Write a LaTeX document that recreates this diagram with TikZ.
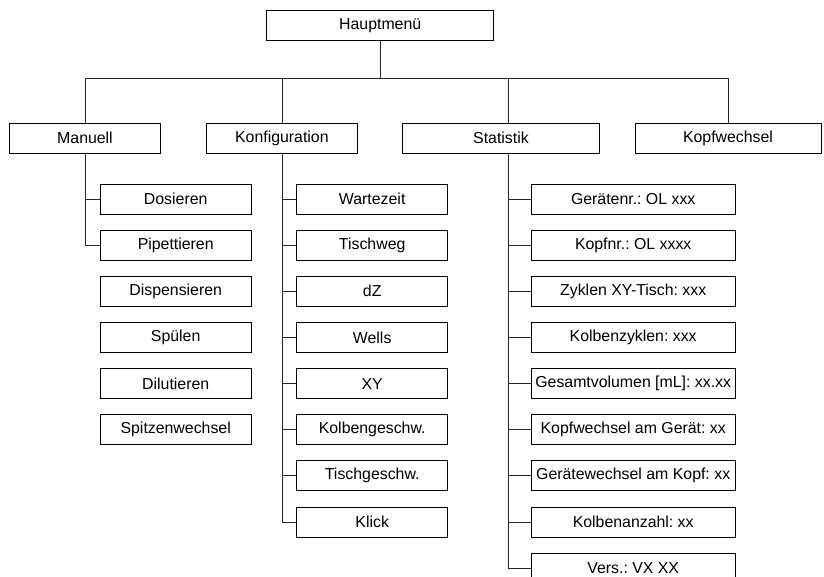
\documentclass[tikz,border=0pt]{standalone}
\usepackage{fontspec}
\setmainfont{Liberation Sans}
\usetikzlibrary{positioning}
\frenchspacing

\begin{document}
\begin{tikzpicture}[x=0.75pt, y=-0.75pt,
    menu/.style={draw, line width=0.6pt, inner sep=0pt, minimum height=22.5pt,
                 font=\fontsize{11.9}{14}\selectfont},
    mainbox/.style={menu, minimum width=170.3pt},
    mbox/.style={menu, minimum width=113.5pt},
    kbox/.style={menu, minimum width=113.3pt},
    sbox/.style={menu, minimum width=153.2pt},
    link/.style={line width=0.6pt, draw=black!85},
    node distance=11.5pt
  ]
    \useasboundingbox (0,0) rectangle (824,576);
    \clip (0,0) rectangle (824,576);

    % top level
    \node[mainbox]                          (haupt)   at (380.2,25.2)  {Hauptmenü};
    \node[menu, minimum width=113.5pt]      (manuell) at (85,138.3)    {Manuell};
    \node[menu, minimum width=113.8pt]      (konfig)  at (281.9,138.3) {Konfiguration};
    \node[menu, minimum width=147.5pt]      (stat)    at (501,138.3)   {Statistik};
    \node[menu, minimum width=139.5pt]      (kopf)    at (728,138.3)   {Kopfwechsel};

    \coordinate (bar)   at (0,78.3);
    \coordinate (statj) at (508.7,78.3);

    % Manuell
    \node[mbox] (dos) at (175.7,199)    {Dosieren};
    \node[mbox, below=of dos]  (pip)    {Pipettieren};
    \node[mbox, below=of pip]  (disp)   {Dispensieren};
    \node[mbox, below=of disp] (spuel)  {Spülen};
    \node[mbox, below=of spuel](dilut)  {Dilutieren};
    \node[mbox, below=of dilut](spitze) {Spitzenwechsel};

    % Konfiguration
    \node[kbox] (wart) at (372.2,199)    {Wartezeit};
    \node[kbox, below=of wart]  (tweg)   {Tischweg};
    \node[kbox, below=of tweg]  (dz)     {dZ};
    \node[kbox, below=of dz]    (wells)  {Wells};
    \node[kbox, below=of wells] (xy)     {XY};
    \node[kbox, below=of xy]    (kgesch) {Kolbengeschw.};
    \node[kbox, below=of kgesch](tgesch) {Tischgeschw.};
    \node[kbox, below=of tgesch](klick)  {Klick};

    % Statistik
    \node[sbox] (geraet) at (633.2,199)  {Gerätenr.: OL xxx};
    \node[sbox, below=of geraet] (kopfnr)  {Kopfnr.: OL xxxx};
    \node[sbox, below=of kopfnr] (zyklen)  {Zyklen XY-Tisch: xxx};
    \node[sbox, below=of zyklen] (kzyklen) {Kolbenzyklen: xxx};
    \node[sbox, below=of kzyklen](gesamt)  {Gesamtvolumen [mL]: xx.xx};
    \node[sbox, below=of gesamt] (kwg)     {Kopfwechsel am Gerät: xx};
    \node[sbox, below=of kwg]    (gwk)     {Gerätewechsel am Kopf: xx};
    \node[sbox, below=of gwk]    (kanz)    {Kolbenanzahl: xx};
    \node[sbox, below=of kanz]   (vers)    {Vers.: VX XX};

    % main bar
    \draw[link] (haupt.south) -- (haupt.south |- bar);
    \draw[link] (manuell.north |- bar) -- (kopf.north |- bar);
    \draw[link] (manuell.north) -- (manuell.north |- bar);
    \draw[link] (konfig.north) -- (konfig.north |- bar);
    \draw[link] (statj) -- (statj |- stat.north);
    \draw[link] (kopf.north) -- (kopf.north |- bar);

    % branches
    \draw[link] (manuell.south) |- (pip.west);
    \draw[link] (dos.west) -- (dos.west -| manuell.south);

    \draw[link] (konfig.south) |- (klick.west);
    \foreach \n in {wart,tweg,dz,wells,xy,kgesch,tgesch}
      \draw[link] (\n.west) -- (\n.west -| konfig.south);

    \draw[link] (statj |- stat.south) |- (vers.west);
    \foreach \n in {geraet,kopfnr,zyklen,kzyklen,gesamt,kwg,gwk,kanz}
      \draw[link] (\n.west) -- (\n.west -| statj);
\end{tikzpicture}
\end{document}
